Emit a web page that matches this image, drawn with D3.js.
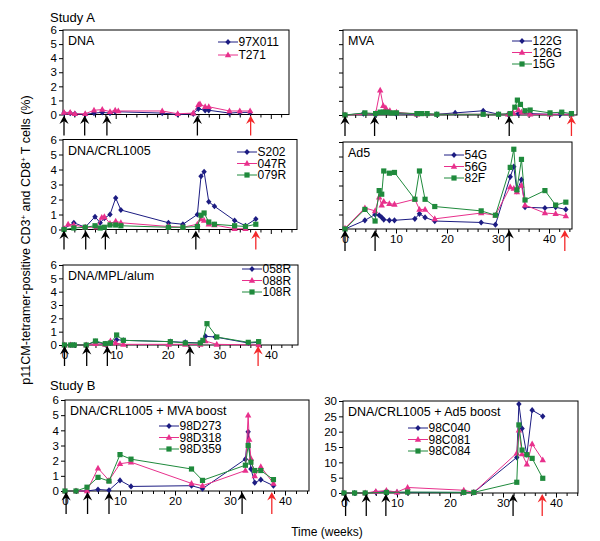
<!DOCTYPE html>
<html>
<head>
<meta charset="utf-8">
<script src="https://cdn.jsdelivr.net/npm/d3@7"></script>
<style>
  body { margin: 0; background: #fff; }
  svg text { font-family: "Liberation Sans", Arial, Helvetica, sans-serif; }
</style>
</head>
<body>
<svg id="chart" width="600" height="541"></svg>
<script>
// ---- Study A: DNA ----
const dna_97X011_wk = [0, 1.2, 2.1, 4.1, 5.8, 7.4, 8.9, 9.9, 19, 22, 25, 26, 27.3, 28, 32, 34, 36];
const dna_97X011    = [0.1, 0.1, 0.05, 0, 0.1, 0.15, 0.1, 0.2, 0.1, 0, 0.05, 0.4, 0.3, 0.3, 0.1, 0.15, 0.15];
const dna_T271_wk   = [0, 1.2, 2.1, 4.1, 5.8, 7.4, 8.9, 9.9, 10.5, 19, 22, 25, 26, 26.3, 27.3, 28, 32, 34, 36];
const dna_T271      = [0.15, 0.15, 0.05, 0.05, 0.3, 0.35, 0.2, 0.3, 0.25, 0.25, 0.05, 0.1, 0.7, 0.75, 0.55, 0.55, 0.25, 0.25, 0.25];
const dnaShots = [0, 4, 8.3, 25.8], dnaChallenge = 36.1;

// ---- Study A: MVA ----
const mva_122G_wk = [0, 3.6, 6, 10, 14, 18, 21.6, 27.1, 30.1, 32, 34, 36.3, 40.2, 42.2, 44.4];
const mva_122G    = [0, 0.1, 0.05, 0.1, 0.05, 0.05, 0.15, 0.3, 0.05, 0.05, 0.1, 0.1, 0.05, 0.05, 0.05];
const mva_126G_wk = [0, 6, 6.9, 7.5, 8, 8.8, 10.1, 14.1, 32, 33, 34, 34.6, 36.3, 40.2, 44.4];
const mva_126G    = [0, 0.1, 1.75, 0.65, 0.5, 0.3, 0.2, 0.05, 0.05, 0.15, 0.35, 0.2, 0.05, 0.05, 0.05];
const mva_15G_wk  = [0, 3.9, 6, 6.9, 7.5, 8.3, 9.2, 10.1, 14.1, 15, 16.1, 18, 27.1, 30.1, 32.4, 33.3, 33.8, 34.4, 35.3, 36.3, 40.2, 42.5, 44.4];
const mva_15G     = [0, 0.15, 0.1, 0.2, 0.2, 0.2, 0.15, 0.15, 0.1, 0.1, 0.1, 0.05, 0.05, 0.05, 0.1, 0.55, 1.05, 0.75, 0.3, 0.35, 0.15, 0.2, 0.1];
const mvaShots = [0, 5.8, 32.2], mvaChallenge = 44.4;

// ---- Study A: DNA/CRL1005 ----
const crl_S202_wk = [0, 1.9, 4.1, 6, 7, 7.8, 8.9, 10, 11, 20.2, 23, 25.8, 26.5, 27.1, 28, 29.1, 33, 35.1, 37.1];
const crl_S202    = [0.05, 0.45, 0.15, 0.85, 0.45, 0.75, 1.0, 2.1, 1.3, 0.45, 0.35, 1.0, 3.55, 3.85, 1.85, 1.55, 0.6, 0.25, 0.7];
const crl_047R_wk = [0, 0.8, 1.9, 4.1, 6.3, 7.3, 7.8, 8.9, 10, 11, 20.2, 23, 25.8, 26.5, 27.1, 28, 29.1, 33, 35.1];
const crl_047R    = [0.05, 0.35, 0.3, 0.15, 0.15, 0.8, 0.85, 0.4, 0.55, 0.45, 0.2, 0.15, 0.35, 0.7, 0.6, 0.35, 0.3, 0.05, 0.05];
const crl_079R_wk = [0, 1.9, 4.1, 6, 7, 7.8, 8.9, 10, 11, 20.2, 23, 25.8, 26.5, 27.1, 28, 29.1, 33, 35.1, 37.1];
const crl_079R    = [0, 0.1, 0.15, 0.25, 0.1, 0.15, 0.3, 0.3, 0.25, 0.15, 0.15, 0.2, 0.95, 1.1, 0.5, 0.35, 0.25, 0.2, 0.35];
const crlShots = [0, 4.2, 8, 25.5], crlChallenge = 37.1;

// ---- Study A: Ad5 ----
const ad5_wk   = [0, 3.9, 5.9, 6.7, 7.2, 7.6, 8.7, 9.7, 13.7, 14.6, 15.7, 17.6, 26.7, 29.5, 32.4, 33.1, 33.7, 34.6, 35.3, 39.2, 41.3, 43.3];
const ad5_54G  = [0, 0.6, 1.0, 0.95, 0.8, 0.65, 0.6, 0.6, 0.7, 1.05, 0.8, 0.55, 0.45, 0.3, 3.6, 4.3, 2.6, 3.4, 1.5, 1.45, 1.5, 1.35];
const ad5_56G  = [0.05, 1.45, 1.25, 2.2, 1.65, 1.9, 1.75, 1.7, 2.05, 1.35, 1.35, 0.7, 1.1, 0.95, 2.9, 2.8, 2.55, 3.0, 1.65, 1.1, 1.05, 0.9];
const ad5_82F  = [0, 1.35, 0.55, 2.65, 2.4, 4.0, 3.85, 3.9, 2.05, 4.0, 2.05, 1.55, 1.25, 0.95, 4.25, 5.5, 2.7, 4.8, 2.0, 2.65, 1.65, 1.85];
const ad5Shots = [0, 5.9, 32.2], ad5Challenge = 43.1;

// ---- Study A: DNA/MPL/alum ----
const mpl_058R_wk = [0, 1.2, 1.9, 4.2, 6, 7.9, 8.9, 10.1, 11.4, 20.5, 23.4, 26.3, 27.3, 29.2, 35.6, 37.6];
const mpl_058R    = [0, 0, 0, 0, 0.25, 0.05, 0.15, 0.4, 0.35, 0.25, 0.2, 0.15, 0.65, 0.6, 0.15, 0.2];
const mpl_088R_wk = [0, 1.2, 4.2, 6, 7.9, 8.9, 9.9, 11.4, 20.2, 23.4, 26.3, 27.3, 29.5, 37.6];
const mpl_088R    = [0, 0, 0, 0.1, 0.05, 0.3, 0.15, 0.05, 0.05, 0.05, 0.05, 0.3, 0.05, 0];
const mpl_108R_wk = [0, 1.2, 1.9, 4.2, 6, 7.9, 8.9, 10.1, 11.4, 20.5, 23.4, 26.3, 26.8, 27.6, 29.5, 35.6, 37.6];
const mpl_108R    = [0, 0, 0, 0, 0.3, 0.1, 0.15, 0.75, 0.35, 0.25, 0.15, 0.15, 0.35, 1.6, 0.6, 0.2, 0.25];
const mplShots = [0, 4.3, 8.3, 24.3], mplChallenge = 37.5;

// ---- Study B: DNA/CRL1005 + MVA boost ----
const bm_98D273_wk = [0, 2, 4, 6, 8, 10, 12, 23, 25, 32.8, 33.3, 33.8, 34.5, 35.6, 37.9];
const bm_98D273    = [0, 0, 0, 0.1, 0.05, 0.7, 0.3, 0.35, 0.15, 2.1, 3.9, 1.45, 0.55, 0.75, 0.35];
const bm_98D318_wk = [0, 2, 4, 6, 8, 10, 12, 23, 25, 32.8, 33.3, 33.5, 33.8, 34.5, 35.6, 37.9];
const bm_98D318    = [0, 0, 0, 1.5, 0.7, 1.8, 1.9, 0.5, 0.35, 1.35, 5.0, 3.4, 2.15, 1.0, 1.6, 0.5];
const bm_98D359_wk = [0, 2, 4, 6, 8, 10, 12, 23, 25, 32.8, 33.3, 33.8, 34.5, 35.6, 37.9];
const bm_98D359    = [0, 0, 0.25, 0.9, 0.65, 2.4, 2.1, 1.45, 0.7, 1.7, 3.0, 1.9, 1.35, 1.35, 0.75];
const bmShots = [0.2, 4.1, 8, 32.2], bmChallenge = 37.6;

// ---- Study B: DNA/CRL1005 + Ad5 boost ----
const ba_98C040_wk = [0, 2, 4, 6, 8, 10, 12, 22.6, 24.5, 32.6, 33, 33.6, 34.5, 35.5, 37.5];
const ba_98C040    = [0, 0, 0, 0.3, 0.5, 0.2, 0.2, 0.2, 0.2, 11.6, 29, 21, 12.5, 27, 25];
const ba_98C081_wk = [0, 4, 6, 8, 10, 12, 22.6, 24.5, 32.6, 33, 33.6, 34.5, 35.5, 37.5];
const ba_98C081    = [0, 0, 0.5, 0.8, 0.3, 1.8, 0.9, 0.2, 13, 20.5, 12.7, 9.4, 16, 10.8];
const ba_98C084_wk = [0, 2, 4, 8, 12, 22.6, 24.5, 32.6, 33, 33.6, 34.5, 35.5, 37.5];
const ba_98C084    = [0, 0, 0, 0.2, 0.3, 0.2, 0.2, 3.5, 22.2, 14, 12.5, 11.3, 4.8];
const baShots = [0.3, 4.2, 7.9, 31.9], baChallenge = 37.4;

const navy = "#1c1c82", pink = "#e8308c", green = "#1f8a3c", red = "#f3282a";

function ser(name, wk, vals, color, shape) {
  return { name, color, shape, pts: wk.map((w, i) => [w, vals[i]]) };
}

// frame: [left, top, right, bottom]; x0/x40: pixel of week 0 and week 40
const panels = [
  { title: "DNA", frame: [63, 30, 289, 114.5], x0: 64, x40: 270.8, ymax: 6, ystep: 1, yLab: true, xLab: false,
    shots: dnaShots, challenge: dnaChallenge, arrowLen: 20, leg: [218, 42, 13],
    series: [ser("97X011", dna_97X011_wk, dna_97X011, navy, "d"), ser("T271", dna_T271_wk, dna_T271, pink, "t")] },
  { title: "MVA", frame: [343, 30, 577, 115], x0: 345, x40: 549, ymax: 6, ystep: 1, yLab: false, xLab: false,
    shots: mvaShots, challenge: mvaChallenge, arrowLen: 20, leg: [512, 41, 11.5],
    series: [ser("122G", mva_122G_wk, mva_122G, navy, "d"), ser("126G", mva_126G_wk, mva_126G, pink, "t"), ser("15G", mva_15G_wk, mva_15G, green, "s")] },
  { title: "DNA/CRL1005", frame: [63, 139.5, 297, 229.5], x0: 64, x40: 270.8, ymax: 6, ystep: 1, yLab: true, xLab: false,
    shots: crlShots, challenge: crlChallenge, arrowLen: 19, leg: [237, 152, 11.5],
    series: [ser("S202", crl_S202_wk, crl_S202, navy, "d"), ser("047R", crl_047R_wk, crl_047R, pink, "t"), ser("079R", crl_079R_wk, crl_079R, green, "s")] },
  { title: "Ad5", frame: [343, 142, 572, 229], x0: 345, x40: 549, ymax: 6, ystep: 1, yLab: false, xLab: true,
    shots: ad5Shots, challenge: ad5Challenge, arrowLen: 21, leg: [444, 155, 11.5],
    series: [ser("54G", ad5_wk, ad5_54G, navy, "d"), ser("56G", ad5_wk, ad5_56G, pink, "t"), ser("82F", ad5_wk, ad5_82F, green, "s")] },
  { title: "DNA/MPL/alum", frame: [63, 265, 298, 345], x0: 64.5, x40: 271, ymax: 6, ystep: 1, yLab: true, xLab: true,
    shots: mplShots, challenge: mplChallenge, arrowLen: 20, leg: [242, 269, 11.5],
    series: [ser("058R", mpl_058R_wk, mpl_058R, navy, "d"), ser("088R", mpl_088R_wk, mpl_088R, pink, "t"), ser("108R", mpl_108R_wk, mpl_108R, green, "s")] },
  { title: "DNA/CRL1005 + MVA boost", frame: [65, 400, 309, 491], x0: 65, x40: 285, ymax: 6, ystep: 1, yLab: true, xLab: true,
    shots: bmShots, challenge: bmChallenge, arrowLen: 22, leg: [159, 426, 11.5],
    series: [ser("98D273", bm_98D273_wk, bm_98D273, navy, "d"), ser("98D318", bm_98D318_wk, bm_98D318, pink, "t"), ser("98D359", bm_98D359_wk, bm_98D359, green, "s")] },
  { title: "DNA/CRL1005 + Ad5 boost", frame: [343, 401, 578, 493], x0: 344, x40: 556, ymax: 30, ystep: 5, yLab: true, xLab: true,
    shots: baShots, challenge: baChallenge, arrowLen: 22, leg: [408, 428, 11.5],
    series: [ser("98C040", ba_98C040_wk, ba_98C040, navy, "d"), ser("98C081", ba_98C081_wk, ba_98C081, pink, "t"), ser("98C084", ba_98C084_wk, ba_98C084, green, "s")] }
];

const shapes = {
  d: "M0,-3.1L2.7,0L0,3.1L-2.7,0Z",
  t: "M0,-3.5L3.2,2.3L-3.2,2.3Z",
  s: "M-2.6,-2.6h5.2v5.2h-5.2Z"
};

const svg = d3.select("#chart");

function arrow(g, x, yTip, len, color) {
  g.append("line").attr("x1", x).attr("x2", x).attr("y1", yTip + 4).attr("y2", yTip + len)
    .attr("stroke", color).attr("stroke-width", 1.3);
  g.append("path")
    .attr("d", `M${x},${yTip}L${x + 4.6},${yTip + 8.5}L${x},${yTip + 5.5}L${x - 4.6},${yTip + 8.5}Z`)
    .attr("fill", color);
}

panels.forEach(p => {
  const [l, t, r, b] = p.frame;
  const x = d3.scaleLinear().domain([0, 40]).range([p.x0, p.x40]);
  const y = d3.scaleLinear().domain([0, p.ymax]).range([b, t]);
  const g = svg.append("g");

  // x axis: ticks every 2 weeks, labels every 10
  const wMax = x.invert(r);
  const xa = g.append("g").attr("transform", `translate(0,${b})`)
    .call(d3.axisBottom(x).tickValues(d3.range(0, wMax, 2)).tickSize(3).tickPadding(3)
      .tickFormat(d => (p.xLab && d % 10 === 0) ? d : ""));
  xa.select(".domain").remove();
  xa.selectAll("line").attr("stroke", "#000");
  xa.selectAll("text").attr("font-size", 11.5).attr("fill", "#000")
    .style("font-family", '"Liberation Sans", Arial, sans-serif');
  xa.selectAll(".tick").filter(d => d % 10 === 0).select("line").attr("y2", 4.5);

  // y axis
  const ya = g.append("g").attr("transform", `translate(${l},0)`)
    .call(d3.axisLeft(y).tickValues(d3.range(0, p.ymax + 0.01, p.ystep)).tickSize(4).tickPadding(2)
      .tickFormat(d => p.yLab ? d : ""));
  ya.select(".domain").remove();
  ya.selectAll("line").attr("stroke", "#000");
  ya.selectAll("text").attr("font-size", 11.5).attr("fill", "#000")
    .style("font-family", '"Liberation Sans", Arial, sans-serif');

  // frame
  g.append("rect").attr("x", l).attr("y", t).attr("width", r - l).attr("height", b - t)
    .attr("fill", "none").attr("stroke", "#000").attr("stroke-width", 1);

  // title
  g.append("text").attr("x", l + 5).attr("y", t + 15).attr("font-size", 12.5).text(p.title);

  // series
  const line = d3.line().x(d => x(d[0])).y(d => y(d[1]));
  p.series.forEach(s => {
    g.append("path").datum(s.pts).attr("d", line).attr("fill", "none")
      .attr("stroke", s.color).attr("stroke-width", 1);
    g.selectAll(null).data(s.pts).join("path")
      .attr("d", shapes[s.shape])
      .attr("transform", d => `translate(${x(d[0])},${y(d[1])})`)
      .attr("fill", s.color);
  });

  // legend
  const [lx, ly, ldy] = p.leg;
  p.series.forEach((s, i) => {
    const yy = ly + i * ldy;
    g.append("line").attr("x1", lx).attr("x2", lx + 20).attr("y1", yy).attr("y2", yy)
      .attr("stroke", s.color).attr("stroke-width", 1);
    g.append("path").attr("d", shapes[s.shape]).attr("transform", `translate(${lx + 10},${yy})`)
      .attr("fill", s.color);
    g.append("text").attr("x", lx + 20.5).attr("y", yy).attr("dy", "0.36em")
      .attr("font-size", 12).text(s.name);
  });

  // vaccination arrows and challenge arrow
  p.shots.forEach(w => arrow(g, x(w), b + 1, p.arrowLen, "#000"));
  arrow(g, x(p.challenge), b + 1, p.arrowLen, red);
});

// study labels
svg.append("text").attr("x", 50).attr("y", 22).attr("font-size", 13).text("Study A");
svg.append("text").attr("x", 50).attr("y", 390).attr("font-size", 13).text("Study B");

// axis titles
const yt = svg.append("text").attr("transform", "translate(30,240) rotate(-90)")
  .attr("text-anchor", "middle").attr("font-size", 12.5);
yt.append("tspan").text("p11CM-tetramer-positive CD3");
yt.append("tspan").attr("baseline-shift", "super").attr("font-size", 8).text("+");
yt.append("tspan").text(" and CD8");
yt.append("tspan").attr("baseline-shift", "super").attr("font-size", 8).text("+");
yt.append("tspan").text(" T cells (%)");

svg.append("text").attr("x", 327).attr("y", 536).attr("text-anchor", "middle")
  .attr("font-size", 12).text("Time (weeks)");
</script>
</body>
</html>
